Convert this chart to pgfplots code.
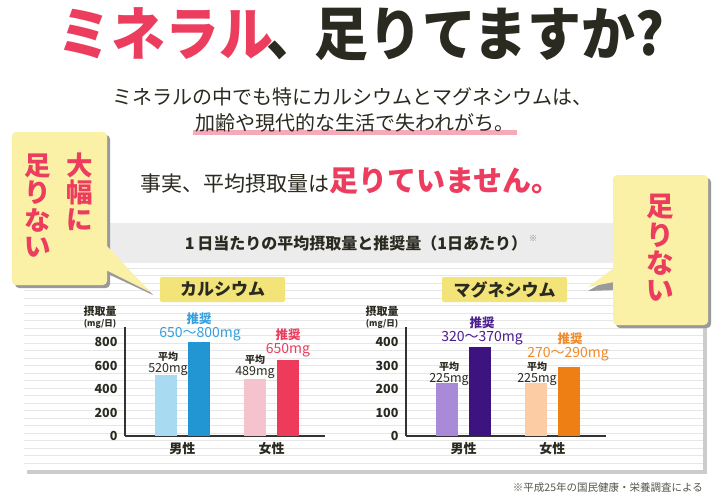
\documentclass[border=0pt]{standalone}
\usepackage{pgfplots}
\pgfplotsset{compat=1.18}
\usepackage{fontspec}
\setmainfont{Noto Sans CJK JP}
\definecolor{redA}{HTML}{EC3D5E}
\definecolor{darkA}{HTML}{2B2A20}
\definecolor{pinkline}{HTML}{F6A9B8}
\definecolor{bandgray}{HTML}{ECECEC}
\definecolor{stripe}{HTML}{E6E6E6}
\definecolor{calloutfill}{HTML}{FAF1A6}
\definecolor{labelfill}{HTML}{F2E479}
\definecolor{shadowgray}{HTML}{9A9A9A}
\definecolor{axisgray}{HTML}{333333}
\definecolor{calLight}{HTML}{A8DAF2}
\definecolor{calBlue}{HTML}{2196D3}
\definecolor{calPink}{HTML}{F5C3CE}
\definecolor{calRed}{HTML}{EF3B5B}
\definecolor{mgLight}{HTML}{A98AD8}
\definecolor{mgDark}{HTML}{3D1380}
\definecolor{mgPeach}{HTML}{FCCDA5}
\definecolor{mgOrange}{HTML}{EE7F14}
\definecolor{txtBlue}{HTML}{35A0DC}
\definecolor{txtPurple}{HTML}{4B1E8F}
\definecolor{txtOrange}{HTML}{F08A2A}
\newcommand{\fs}[1]{\fontsize{#1}{#1}\selectfont}
\pgfplotsset{
  mybars/.style={
    scale only axis, width=200pt, height=109pt, ymin=0,
    axis x line*=bottom, axis y line*=left,
    axis line style={draw=axisgray, line width=1.1pt},
    ybar, bar width=22.5pt,
    xtick={1,2}, xticklabels={男性,女性},
    major tick length=0pt,
    /pgf/number format/assume math mode=true,
    yticklabel style={font=\fs{12.5}\bfseries, text=darkA, xshift=-4pt},
    xticklabel style={font=\fs{13}\bfseries, text=darkA, yshift=-3pt},
    clip=false,
  }
}
\begin{document}
\begin{tikzpicture}[x=1pt,y=1pt]
\path[use as bounding box, fill=white] (0,0) rectangle (725,-499);
% title
\node[font=\fs{58}\bfseries, inner sep=0] at (361,-34) {\scalebox{0.93}[1]{\textcolor{redA}{ミネラル}\textcolor{darkA}{\hspace{-0.12em}、\hspace{-0.12em}足りてますか?}}};
% subtitle
\node[font=\fs{20}, text=darkA, inner sep=0] at (352,-97) {ミネラルの中でも特にカルシウムとマグネシウムは、};
\fill[pinkline] (193,-130) rectangle (517,-135);
\node[font=\fs{20}, text=darkA, inner sep=0] at (355,-123) {加齢や現代的な生活で失われがち。};
\node[anchor=base west, inner sep=0, text=darkA] at (140,-191) {\fs{21}事実、平均摂取量は\textcolor{redA}{\fs{29}\bfseries 足りていません。}};
% panel
\fill[gray!40] (27,-221) rectangle (707,-474);
\fill[white] (24,-218) rectangle (703,-470);
\fill[bandgray] (24,-223) rectangle (703,-263);
\foreach \y in {268,275.5,...,467} \draw[stripe, line width=0.8pt] (24,-\y) -- (703,-\y);
\node[font=\fs{16}\bfseries, text=darkA, inner sep=0] at (356,-243) {1\,日当たりの平均摂取量と推奨量（1日あたり）};
\node[font=\fs{8}, text=gray, inner sep=0] at (533,-239) {※};
% element labels
\fill[labelfill, rounded corners=2pt] (160,-277) rectangle (285,-302);
\node[font=\fs{17}\bfseries, text=darkA, inner sep=0] at (222.5,-289.5) {カルシウム};
\fill[labelfill, rounded corners=2pt] (442,-277) rectangle (567,-302);
\node[font=\fs{17}\bfseries, text=darkA, inner sep=0] at (504.5,-289.5) {マグネシウム};
% left callout
\fill[shadowgray, rounded corners=4pt] (15,-135) rectangle (110,-288);
\fill[shadowgray] (108,-249) -- (153,-295) -- (108,-274) -- cycle;
\fill[calloutfill] (106,-245) -- (150,-292) -- (106,-270) -- cycle;
\fill[calloutfill, rounded corners=4pt] (12,-132) rectangle (107,-285);
\foreach \c/\yy in {大/165,幅/192,に/220} \node[font=\fs{26.5}\bfseries, text=redA, inner sep=0] at (80,-\yy) {\c};
\foreach \c/\yy in {足/166,り/193,な/220,い/247} \node[font=\fs{26.5}\bfseries, text=redA, inner sep=0] at (38,-\yy) {\c};
% right callout
\fill[shadowgray, rounded corners=4pt] (616,-178) rectangle (711,-328);
\fill[shadowgray] (616,-275) -- (588,-291) -- (616,-290) -- cycle;
\fill[calloutfill] (614,-268) -- (588,-287) -- (614,-282) -- cycle;
\fill[calloutfill, rounded corners=4pt] (613,-175) rectangle (708,-325);
\foreach \c/\yy in {足/207,り/235,な/263,い/291} \node[font=\fs{27.5}\bfseries, text=redA, inner sep=0] at (660,-\yy) {\c};
% y labels
\node[font=\fs{11}\bfseries, text=darkA, inner sep=0] at (100,-311) {摂取量};
\node[font=\fs{8.5}\bfseries, text=darkA, inner sep=0] at (100,-324) {(mg/日)};
\node[font=\fs{11}\bfseries, text=darkA, inner sep=0] at (382,-311) {摂取量};
\node[font=\fs{8.5}\bfseries, text=darkA, inner sep=0] at (382,-324) {(mg/日)};
% calcium chart
\begin{axis}[mybars, at={(125pt,-436pt)}, anchor=south west,
  xmin=0.356, xmax=2.597, ymax=928, ytick={0,200,400,600,800}]
\addplot[fill=calLight, draw=none, bar shift=-16.5pt] coordinates {(1,520)};
\addplot[fill=calBlue, draw=none, bar shift=16.5pt] coordinates {(1,800)};
\addplot[fill=calPink, draw=none, bar shift=-16.5pt] coordinates {(2,489)};
\addplot[fill=calRed, draw=none, bar shift=16.5pt] coordinates {(2,650)};
\end{axis}
% magnesium chart
\begin{axis}[mybars, at={(406pt,-436pt)}, anchor=south west,
  xmin=0.348, xmax=2.607, ymax=464, ytick={0,100,200,300,400}]
\addplot[fill=mgLight, draw=none, bar shift=-16.5pt] coordinates {(1,225)};
\addplot[fill=mgDark, draw=none, bar shift=16.5pt] coordinates {(1,378)};
\addplot[fill=mgPeach, draw=none, bar shift=-16.5pt] coordinates {(2,225)};
\addplot[fill=mgOrange, draw=none, bar shift=16.5pt] coordinates {(2,292)};
\end{axis}
% bar annotations calcium
\node[font=\fs{10}\bfseries, text=darkA, inner sep=0] at (168,-357) {平均};
\node[font=\fs{12.5}, text=darkA, inner sep=0] at (168,-370) {520mg};
\node[font=\fs{12.5}\bfseries, text=txtBlue, inner sep=0] at (199,-319) {推奨};
\node[font=\fs{14}, text=txtBlue, inner sep=0] at (200,-334) {650～800mg};
\node[font=\fs{10}\bfseries, text=darkA, inner sep=0] at (255,-360) {平均};
\node[font=\fs{12.5}, text=darkA, inner sep=0] at (255,-373) {489mg};
\node[font=\fs{12.5}\bfseries, text=redA, inner sep=0] at (288,-335) {推奨};
\node[font=\fs{14}, text=redA, inner sep=0] at (288,-350) {650mg};
% bar annotations magnesium
\node[font=\fs{10}\bfseries, text=darkA, inner sep=0] at (449,-367) {平均};
\node[font=\fs{12.5}, text=darkA, inner sep=0] at (449,-380) {225mg};
\node[font=\fs{12.5}\bfseries, text=txtPurple, inner sep=0] at (482,-323) {推奨};
\node[font=\fs{14}, text=txtPurple, inner sep=0] at (482,-338) {320～370mg};
\node[font=\fs{10}\bfseries, text=darkA, inner sep=0] at (537,-367) {平均};
\node[font=\fs{12.5}, text=darkA, inner sep=0] at (537,-380) {225mg};
\node[font=\fs{12.5}\bfseries, text=txtOrange, inner sep=0] at (570,-339) {推奨};
\node[font=\fs{14}, text=txtOrange, inner sep=0] at (568,-354) {270～290mg};
% footnote
\node[font=\fs{10.5}, text=darkA!80, anchor=east, inner sep=0] at (703,-488) {※平成25年の国民健康・栄養調査による};
\end{tikzpicture}
\end{document}
